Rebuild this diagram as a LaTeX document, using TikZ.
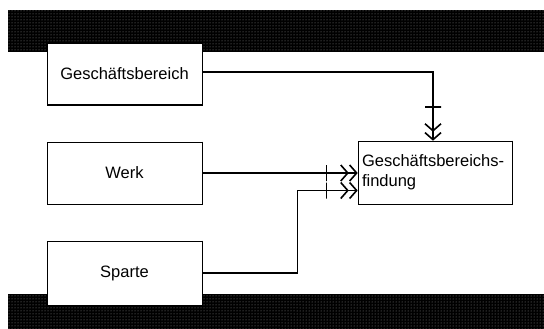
\documentclass[tikz,border=0pt]{standalone}
\usepackage{fontspec}
\setmainfont{Liberation Sans}
\usetikzlibrary{arrows.meta,patterns}

\begin{document}
\begin{tikzpicture}[x=1pt,y=-1pt,font=\fontsize{16.5}{20}\selectfont,
  box/.style={draw,line width=.6pt,fill=white,inner sep=0pt,minimum width=155pt,minimum height=62pt},
  flow/.style={line width=1.4pt,-{Straight Barb[length=7pt,width=16pt,line width=1.6pt] Straight Barb[length=7pt,width=16pt,line width=1.6pt]}},
  tick/.style={sloped,draw,line width=1.2pt,inner sep=0pt,minimum width=0pt,minimum height=16pt}]
  \useasboundingbox (0,0) rectangle (544,329);
  % Rasterbaender oben und unten
  \foreach \ya/\yb in {10/52,294/329}{
    \fill[black] (8,\ya) rectangle (544,\yb);
    \fill[pattern=dots,pattern color=white!55!black] (8,\ya) rectangle (544,\yb);}
  \node[box] (gb) at (124.5,74) {Geschäftsbereich};
  \node[box] (werk) at (124.5,173) {Werk};
  \node[box,minimum height=64pt] (sparte) at (124.5,273) {Sparte};
  \node[box,minimum width=154pt,minimum height=63pt,text width=146pt,align=left,inner xsep=4pt] (gbf) at (435,172.5) {Geschäftsbereichs-\\findung};
  % kraeftige Kanten rechts und unten
  \foreach \n in {gb,werk,sparte,gbf}{\draw[line width=1.6pt] (\n.north east) |- (\n.south west);}
  \draw[flow] ([yshift=2pt]gb.east) -| node[tick,pos=.755]{} ([xshift=-2pt]gbf.north);
  \draw[flow] (werk) -- node[tick,pos=.8]{} (werk -| gbf.west);
  \draw[flow] (sparte) -| ([xshift=-60pt,yshift=-18pt]gbf.west) -- node[tick,pos=.48]{} ([yshift=-18pt]gbf.west);
\end{tikzpicture}
\end{document}
